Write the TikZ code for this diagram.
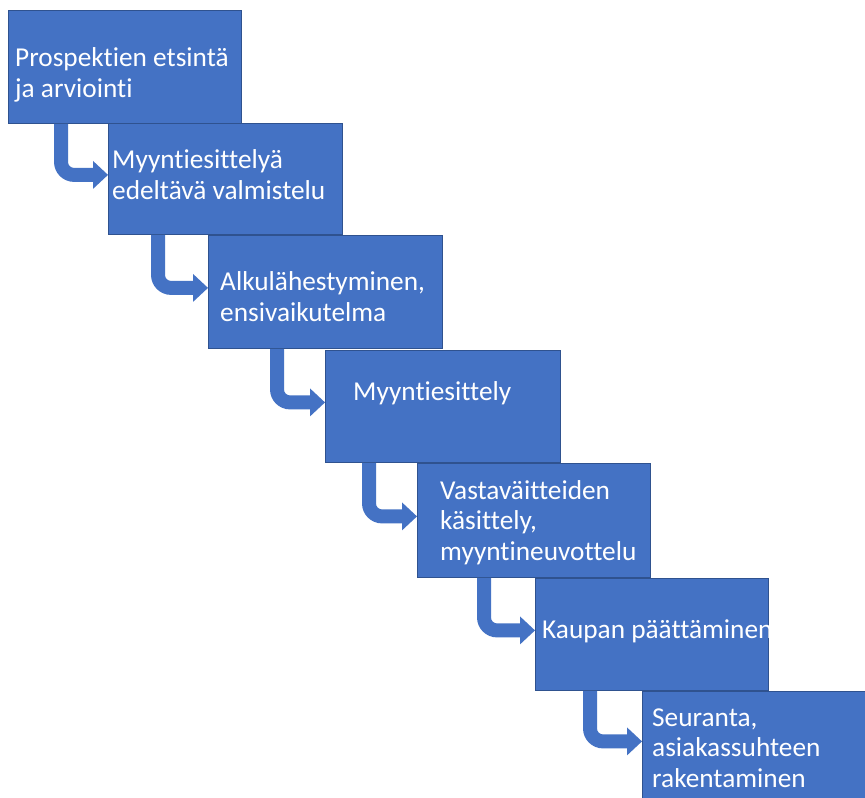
\documentclass[tikz,border=0pt]{standalone}
\usepackage{fontspec}
\setmainfont{Carlito}[Ligatures=NoCommon]
\usetikzlibrary{calc}
\definecolor{boxblue}{RGB}{68,114,196}
\definecolor{boxedge}{RGB}{47,82,143}
\newcommand\bentarrow[3]{%
  \fill[arrowfill] let \p1=($(#1.south west)+(#2,0)$), \p2=($(#3.west)+(0,-4)$) in
    (\x1-7pt,\y1) -- (\x1-7pt,\y2+13pt)
    arc[start angle=180,end angle=270,radius=20pt]
    -- (\x2-15pt,\y2-7pt) -- (\x2-15pt,\y2-14pt) -- (\x2,\y2)
    -- (\x2-15pt,\y2+14pt) -- (\x2-15pt,\y2+7pt) -- (\x1+13pt,\y2+7pt)
    arc[start angle=270,end angle=180,radius=6pt]
    -- (\x1+7pt,\y1) -- cycle;}
\begin{document}
\begin{tikzpicture}[x=1pt,y=-1pt,
  stepbox/.style={draw=boxedge,fill=boxblue,line width=0.8pt,anchor=north west,inner sep=0pt},
  steptext/.style={text=white,anchor=base west,align=left,inner sep=0pt,
    font=\fontsize{27.3}{30.5}\selectfont},
  arrowfill/.style={fill=boxblue}]
\clip (0,0) rectangle (865,798);
\fill[white] (0,0) rectangle (865,798);
\node[stepbox,minimum width=233pt,minimum height=113pt] (b1) at (8,10) {};
\node[stepbox,minimum width=234pt,minimum height=111pt] (b2) at (108,123) {};
\node[stepbox,minimum width=234pt,minimum height=113pt] (b3) at (208,235) {};
\node[stepbox,minimum width=235pt,minimum height=112pt] (b4) at (325,350) {};
\node[stepbox,minimum width=233pt,minimum height=114pt] (b5) at (417,463) {};
\node[stepbox,minimum width=233pt,minimum height=112pt] (b6) at (535,578) {};
\node[stepbox,minimum width=234pt,minimum height=108pt] (b7) at (642,691) {};
\bentarrow{b1}{53}{b2}
\bentarrow{b2}{50}{b3}
\bentarrow{b3}{69}{b4}
\bentarrow{b4}{44}{b5}
\bentarrow{b5}{67}{b6}
\bentarrow{b6}{55}{b7}
% base anchor = baseline of the last line
\node[steptext] (t1) at (15,97) {Prospektien etsintä\\ja arviointi};
\node[steptext] (t2) at (112,199) {Myyntiesittelyä\\edeltävä valmistelu};
\node[steptext] (t3) at (220,321) {Alkulähestyminen,\\ensivaikutelma};
\node[steptext] (t4) at (353,400) {Myyntiesittely};
\node[steptext] (t5) at (440,560) {Vastaväitteiden\\käsittely,\\myyntineuvottelu};
\node[steptext] (t6) at (542,638) {Kaupan päättäminen};
\node[steptext] (t7) at (652,787) {Seuranta,\\asiakassuhteen\\rakentaminen};
\end{tikzpicture}
\end{document}
